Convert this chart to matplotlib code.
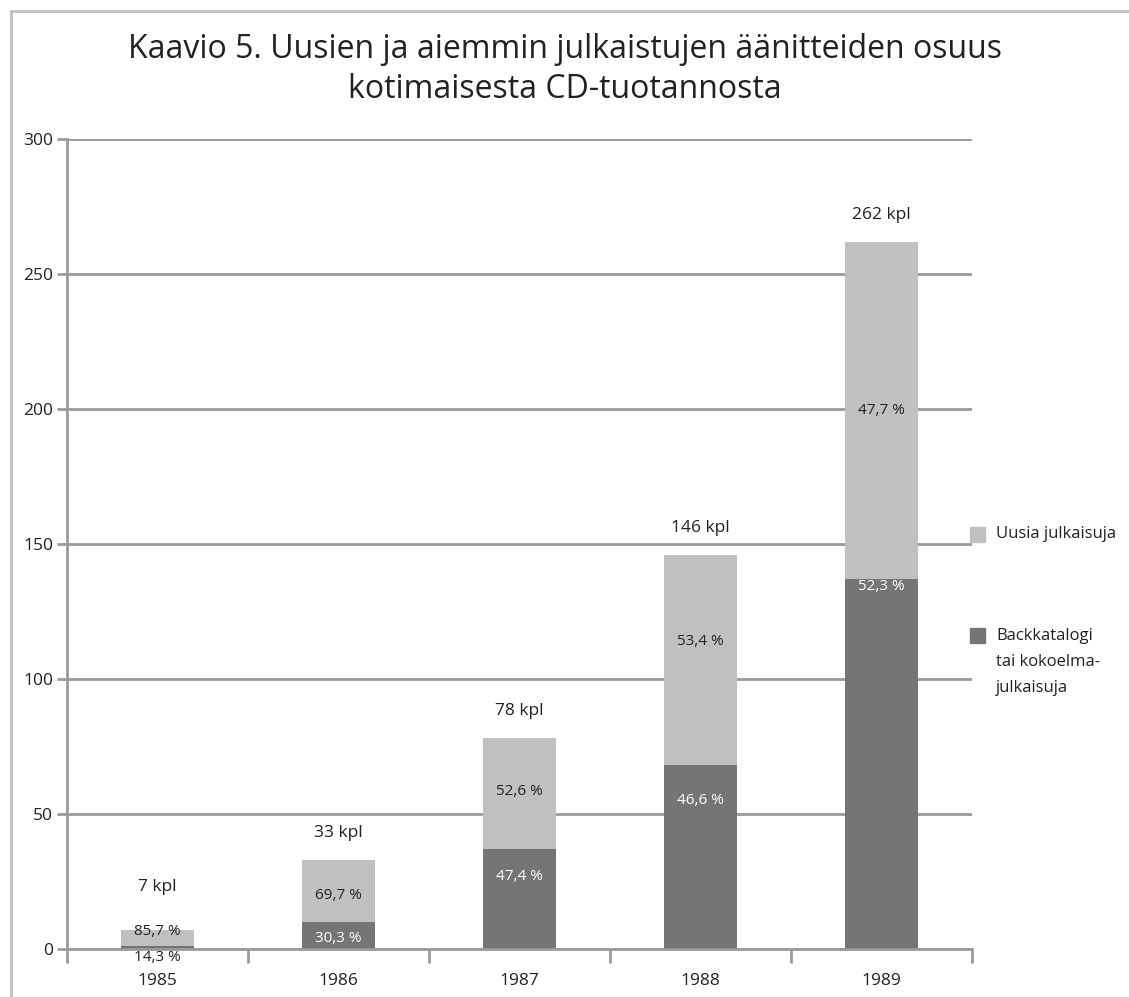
import matplotlib
matplotlib.use("Agg")
import matplotlib.pyplot as plt
from matplotlib.lines import Line2D
from matplotlib.patches import Rectangle
import numpy as np

plt.rcParams['font.family'] = ['Open Sans', 'DejaVu Sans']

years = ["1985", "1986", "1987", "1988", "1989"]
backcat = [1, 10, 37, 68, 137]          # Backkatalogi tai kokoelmajulkaisuja
new = [6, 23, 41, 78, 125]              # Uusia julkaisuja
totals_label = ["7 kpl", "33 kpl", "78 kpl", "146 kpl", "262 kpl"]
pct_new = ["85,7 %", "69,7 %", "52,6 %", "53,4 %", "47,7 %"]
pct_back = ["14,3 %", "30,3 %", "47,4 %", "46,6 %", "52,3 %"]

# label placement (fraction within segment)
frac_back = [-3.0, 0.4, 0.73, 0.81, 0.98]
frac_new = [0.9, 0.43, 0.52, 0.59, 0.5]

LIGHT = "#c0c0c0"
DARK = "#757575"
GRID = "#9a9a9a"
TXT = "#222222"

fig = plt.figure(figsize=(11.29, 9.97), dpi=100)
W, H = 1129, 997

# outer frame (left + top)
fig.add_artist(Line2D([10.5 / W, 10.5 / W], [0, 1 - 11.5 / H], transform=fig.transFigure,
                      color="#c4c4c4", lw=2.2))
fig.add_artist(Line2D([10.5 / W, 1], [1 - 11.5 / H, 1 - 11.5 / H], transform=fig.transFigure,
                      color="#c4c4c4", lw=2.2))

ax = fig.add_axes([67 / W, 1 - 949 / H, (972 - 67) / W, (949 - 139) / H])

x = np.arange(len(years))
bw = 0.4
ax.bar(x, backcat, bw, color=DARK, zorder=3, label="Backkatalogi\ntai kokoelma-\njulkaisuja")
ax.bar(x, new, bw, bottom=backcat, color=LIGHT, zorder=3, label="Uusia julkaisuja")

ax.set_xlim(-0.5, len(years) - 0.5)
ax.set_ylim(0, 300)
ax.set_yticks(np.arange(0, 301, 50))
ax.grid(axis="y", color=GRID, lw=2, zorder=1)
ax.set_axisbelow(True)

for s in ["top", "right"]:
    ax.spines[s].set_visible(False)
for s in ["left", "bottom"]:
    ax.spines[s].set_color(GRID)
    ax.spines[s].set_linewidth(2)
ax.spines["bottom"].set_zorder(4)

ax.set_xticks(x)
ax.set_xticklabels(years)
ax.set_xticks(np.arange(-0.5, len(years), 1.0), minor=True)
ax.tick_params(axis="x", which="major", length=0, pad=17, labelsize=12.5, labelcolor=TXT)
ax.tick_params(axis="x", which="minor", length=10, width=2, color=GRID, direction="out")
ax.tick_params(axis="y", length=7, width=2, color=GRID, labelsize=12.5, labelcolor=TXT, pad=3)

for i in range(len(years)):
    b = backcat[i]
    n = new[i]
    tot = b + n
    yb = b * frac_back[i]
    col_b = "white" if i > 0 else TXT
    ax.text(x[i], yb, pct_back[i], ha="center", va="center", fontsize=11,
            color=col_b, zorder=5)
    yn = b + n * frac_new[i]
    ax.text(x[i], yn, pct_new[i], ha="center", va="center", fontsize=11,
            color=TXT, zorder=5)
    ky = max(tot + 10, 23)
    ax.text(x[i], ky, totals_label[i], ha="center", va="center", fontsize=12.5,
            color=TXT, zorder=5)

fig.text(565 / W, 1 - 50 / H, "Kaavio 5. Uusien ja aiemmin julkaistujen äänitteiden osuus",
         ha="center", va="center", fontsize=23, color=TXT)
fig.text(565 / W, 1 - 89 / H, "kotimaisesta CD-tuotannosta",
         ha="center", va="center", fontsize=23, color=TXT)

# legend (manual)
fig.add_artist(Rectangle((970 / W, 1 - 542 / H), 15 / W, 15 / H, transform=fig.transFigure,
                         color=LIGHT))
fig.text(996 / W, 1 - 534 / H, "Uusia julkaisuja", ha="left", va="center", fontsize=12, color=TXT)
fig.add_artist(Rectangle((970 / W, 1 - 643 / H), 15 / W, 15 / H, transform=fig.transFigure,
                         color=DARK))
for j, line in enumerate(["Backkatalogi", "tai kokoelma-", "julkaisuja"]):
    fig.text(996 / W, 1 - (636 + 26 * j) / H, line, ha="left", va="center", fontsize=12, color=TXT)

fig.savefig("out.png", dpi=100)
